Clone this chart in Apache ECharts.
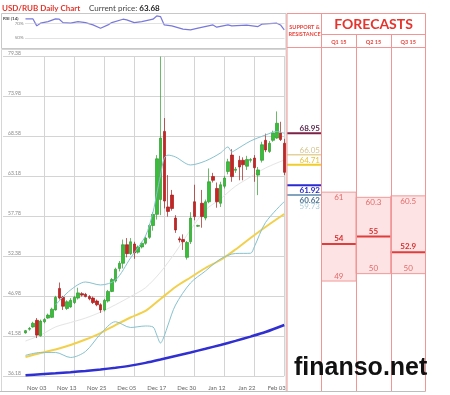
<!DOCTYPE html>
<html><head><meta charset="utf-8">
<script src="https://cdn.jsdelivr.net/npm/echarts@6/dist/echarts.min.js"></script>
<style>html,body{margin:0;padding:0;background:#fff}#c{width:450px;height:395px}</style>
</head><body><div id="c"></div>
<script>
// ---------- DATA ----------
const dates = ['Oct 21','Oct 22','Oct 23','Oct 24','Oct 27','Oct 28','Oct 29','Oct 30','Oct 31',
  'Nov 03','Nov 04','Nov 05','Nov 06','Nov 07','Nov 10','Nov 11','Nov 12','Nov 13','Nov 14','Nov 17',
  'Nov 18','Nov 19','Nov 20','Nov 21','Nov 24','Nov 25','Nov 26','Nov 27','Nov 28','Dec 01','Dec 02',
  'Dec 03','Dec 04','Dec 05','Dec 08','Dec 09','Dec 10','Dec 11','Dec 12','Dec 15','Dec 16','Dec 17',
  'Dec 18','Dec 19','Dec 22','Dec 23','Dec 24','Dec 26','Dec 29','Dec 30','Dec 31','Jan 02','Jan 05',
  'Jan 06','Jan 07','Jan 08','Jan 09','Jan 12','Jan 13','Jan 14','Jan 15','Jan 16','Jan 19','Jan 20',
  'Jan 21','Jan 22','Jan 23','Jan 26','Jan 27','Jan 28','Jan 29','Jan 30','Feb 02','Feb 03','Feb 04','Feb 05'];
const xTickLabels = ['Nov 03','Nov 13','Nov 25','Dec 05','Dec 17','Dec 30','Jan 12','Jan 22','Feb 03'];
const gridDates = ['Nov 05','Nov 17','Nov 27','Dec 09','Dec 19','Jan 02','Jan 14','Jan 26','Feb 05'];
const yTickLabels = ['36.18','41.58','46.98','52.38','57.78','63.18','68.58','73.98','79.38'];

const candleStart = 'Oct 29';
const candleOpen = [42.0,42.5,42.8,43.7,41.6,43.5,44.0,44.1,45.1,48.0,
  46.8,45.3,45.5,46.1,46.7,47.3,47.2,46.9,46.7,46.3,
  45.8,45.1,46.3,47.6,49.0,50.7,51.4,53.9,52.7,54.0,
  52.9,53.6,54.1,54.9,56.5,58.0,60.0,69.2,59.0,60.6,
  57.5,54.7,54.6,52.2,54.3,59.7,56.4,59.5,57.5,59.7,
  63.1,61.5,59.5,61.8,63.8,66.0,63.95,65.3,65.3,64.5,
  65.3,65.6,63.3,65.3,68.0,66.5,68.0,68.3,69.0,67.6];
const candleClose = [42.3,42.6,43.3,41.7,43.6,43.8,44.4,45.2,46.8,46.7,
  45.6,46.2,46.4,46.8,47.4,47.1,46.9,46.6,46.1,45.8,
  45.1,46.4,47.6,49.2,50.6,51.4,53.9,52.7,54.3,52.8,
  53.6,54.1,54.8,56.5,58.0,65.5,68.3,59.8,58.4,58.8,
  55.9,54.55,54.3,54.2,57.5,57.7,56.5,57.7,59.7,62.4,
  62.6,59.7,62.0,62.9,65.1,63.1,64.1,64.4,64.7,65.4,
  65.4,64.3,64.0,67.4,66.7,67.6,69.0,70.3,68.1,63.68];
const candleLow = [41.9,42.3,42.7,41.3,41.5,43.3,43.9,44.0,45.0,46.5,
  45.1,45.1,45.4,45.9,46.5,46.9,46.8,46.4,45.9,45.6,
  44.7,44.9,46.1,47.5,48.8,50.3,50.7,52.2,52.5,52.0,
  52.7,53.4,53.9,54.7,55.8,57.3,57.9,58.8,57.7,58.5,
  55.5,54.2,53.2,51.9,54.0,57.2,56.3,56.2,57.2,59.5,
  62.3,58.9,59.0,61.5,63.4,62.4,63.6,62.6,62.6,64.0,
  65.0,62.4,60.6,65.0,66.4,66.3,67.8,68.2,67.9,63.3];
const candleHigh = [42.4,42.8,43.5,44.0,43.8,44.0,44.6,45.4,47.0,48.8,
  47.0,46.4,46.7,47.0,48.1,47.5,47.4,47.1,46.9,46.5,
  46.0,46.6,47.8,49.4,50.8,51.7,54.6,54.8,54.8,54.3,
  53.8,54.3,55.0,56.7,58.3,66.0,79.3,71.0,63.3,61.3,
  57.9,55.0,55.3,54.4,58.3,62.0,56.6,61.3,60.0,64.2,
  63.6,62.3,62.4,63.2,65.5,66.8,64.4,65.9,65.7,65.9,
  65.6,66.0,64.4,67.8,68.9,67.9,69.3,71.9,70.5,68.2];

const maDates = ['Oct 29','Nov 04','Nov 10','Nov 14','Nov 20','Nov 26','Dec 02','Dec 08','Dec 12',
  'Dec 18','Dec 24','Dec 31','Jan 07','Jan 13','Jan 19','Jan 23','Jan 29','Feb 05'];
const smaYellow = [38.75,39.29,39.76,40.37,41.11,41.98,43.06,44.08,44.96,46.58,48.2,49.48,50.76,51.84,53.26,54.81,56.3,58.05];
const smaBlue = [36.27,36.42,36.55,36.69,36.86,37.06,37.30,37.58,37.95,38.40,38.88,39.36,39.85,40.37,40.92,41.50,42.12,43.07];
const bandMid = [40.9,41.7,42.8,43.4,44.0,44.8,45.8,46.9,48.1,50.2,52.9,55.9,58.6,60.1,61.8,63.05,64.26,65.34];

const lowerDates = ['Oct 29','Nov 04','Nov 10','Nov 14','Nov 20','Nov 26','Dec 02','Dec 08','Dec 12',
  'Dec 16','Dec 17','Dec 18','Dec 19','Dec 22','Dec 24','Dec 31','Jan 07','Jan 13','Jan 19','Jan 23',
  'Jan 26','Jan 29','Feb 05'];
const bandLower = [38.97,39.36,39.36,38.68,39.49,41.85,43.51,42.73,42.93,42.8,41.72,40.63,41.58,43.06,
  45.76,48.74,50.36,51.98,52.72,52.75,53.6,56.9,59.73];

const upperDates = ['Nov 10','Nov 14','Nov 20','Nov 26','Dec 02','Dec 08','Dec 12','Dec 16','Dec 17',
  'Dec 18','Dec 19','Dec 22','Dec 24','Dec 31','Jan 07','Jan 13','Jan 15','Jan 16','Jan 19','Jan 23',
  'Jan 29','Feb 03','Feb 05'];
const bandUpper = [45.77,47.79,48.87,48.47,49.14,52.11,55.08,58.3,60.8,63.3,65.6,66.0,65.75,64.67,65.21,
  66.29,67.1,66.42,66.69,67.9,68.71,69.19,68.95];

const rsiDates = ['Oct 29','Oct 31','Nov 03','Nov 04','Nov 06','Nov 10','Nov 11','Nov 12','Nov 14','Nov 18',
  'Nov 20','Nov 24','Nov 26','Nov 28','Dec 01','Dec 04','Dec 05','Dec 09','Dec 11','Dec 16','Dec 17',
  'Dec 18','Dec 19','Dec 23','Dec 29','Dec 31','Jan 05','Jan 09','Jan 12','Jan 15','Jan 16','Jan 22',
  'Jan 27','Jan 28','Feb 03','Feb 04','Feb 05'];
const rsiValues = [76.2,76.2,66.6,70.3,72.5,76.2,75.8,71.1,70.3,72.5,71.1,67.9,63.4,67.9,71.1,75.8,74.8,
  71.1,72.5,75.8,80.3,79.4,67.9,66.6,62.0,61.0,63.4,67.9,64.8,67.9,66.6,67.5,65.6,68.9,70.3,67.9,61.0];
const rsiLevels = [70, 50];

const supportLevels = [68.95, 66.05, 64.71, 61.92, 60.62, 59.73];
const quarters = ['Q1 15', 'Q2 15', 'Q3 15'];
const forecastHigh = [61, 60.3, 60.5];
const forecastMid = [54, 55, 52.9];
const forecastLow = [49, 50, 50];

// ---------- STYLES / LAYOUT ----------
const FONT = 'Lato, "Open Sans", sans-serif';
const supportStyles = [
  {line:'#7b2346', text:'#5b2a50', width:2,   below:false, bold:true},
  {line:'#e3d29c', text:'#d6c48c', width:1.5, below:false, bold:false},
  {line:'#f1cd2c', text:'#e5c43c', width:2,   below:false, bold:false},
  {line:'#2a2ad2', text:'#2626c8', width:2,   below:true,  bold:true},
  {line:'#5a86a8', text:'#4d7494', width:1.5, below:true,  bold:true},
  {line:'#d8eaee', text:'#a9cdd6', width:0,   below:true,  bold:false}
];
const RED = '#f09696';
const T = {left:287, sr:321.5, right:425.5, top:13.5, mid:34.5, head:47.5, bottom:391.5};

const idx = d => dates.indexOf(d);
const c0 = idx(candleStart);
const candleData = candleOpen.map((o, k) => [c0 + k, o, candleClose[k], candleLow[k], candleHigh[k]]);
const pairs = (ds, vs) => ds.map((d, k) => [idx(d), vs[k]]);
const lastIdx = c0 + candleOpen.length - 1;

function lineSeries(ds, vs, color, width, z) {
  return {type:'line', xAxisIndex:0, yAxisIndex:0, data: pairs(ds, vs), smooth:0.3,
    symbol:'none', showSymbol:false, lineStyle:{color, width}, z, silent:true};
}

const graphics = [];
const tl = (x1,y1,x2,y2,stroke) => graphics.push({type:'line', z:50, silent:true,
  shape:{x1,y1,x2,y2}, style:{stroke: stroke || RED, lineWidth:1}});
// frames
graphics.push({type:'rect', z:1, silent:true, shape:{x:1.5,y:13.5,width:284.5,height:35}, style:{fill:'none', stroke:'#c8c8c8', lineWidth:1}});
graphics.push({type:'rect', z:1, silent:true, shape:{x:1.5,y:49.5,width:284.5,height:342}, style:{fill:'none', stroke:'#d6d6d6', lineWidth:1}});
// table
tl(T.left, T.top, T.right, T.top);
tl(T.sr, T.mid, T.right, T.mid);
tl(T.left, T.head, T.right, T.head);
tl(T.left, T.top, T.left, T.bottom);
tl(T.sr, T.top, T.sr, T.bottom);
for (let k = 1; k < 3; k++) {
  const x = Math.round(T.sr + k * (T.right - T.sr) / 3) + 0.5;
  tl(x, T.mid, x, T.bottom);
}
tl(T.right, T.top, T.right, T.bottom);
tl(0, T.bottom, T.right, T.bottom, '#bdbdbd');
// texts
graphics.push({type:'text', z:60, style:{text:'USD/RUB Daily Chart', x:2, y:8, verticalAlign:'middle', font:'bold 8px ' + FONT, fill:'#e5352b'}});
graphics.push({type:'text', z:60, style:{text:'Current price: {b|' + candleClose[candleClose.length-1].toFixed(2) + '}', x:89, y:8, verticalAlign:'middle',
  font:'8px ' + FONT, fill:'#444', rich:{b:{font:'bold 8px ' + FONT, fill:'#222'}}}});
graphics.push({type:'text', z:60, style:{text:'RSI (14)', x:3, y:19, verticalAlign:'middle', font:'bold 4.5px ' + FONT, fill:'#444'}});
graphics.push({type:'text', z:60, style:{text:'SUPPORT &', x:304.5, y:27.5, align:'center', verticalAlign:'middle', font:'bold 5.5px ' + FONT, fill:'#e8453c'}});
graphics.push({type:'text', z:60, style:{text:'RESISTANCE', x:304.5, y:34.5, align:'center', verticalAlign:'middle', font:'bold 5.5px ' + FONT, fill:'#e8453c'}});
graphics.push({type:'text', z:60, style:{text:'FORECASTS', x:373.5, y:24.5, align:'center', verticalAlign:'middle', font:'bold 14px ' + FONT, fill:'#e6332c'}});
graphics.push({type:'text', z:60, style:{text:'finanso.net', x:294, y:368, verticalAlign:'middle', font:'bold 25px "Liberation Sans", Arial, sans-serif', fill:'#111'}});

const chart = echarts.init(document.getElementById('c'));
chart.setOption({
  animation:false,
  backgroundColor:'#fff',
  textStyle:{fontFamily:FONT},
  grid:[
    {left:3, top:56, width:281.25, height:320},
    {left:3, top:14, width:281.25, height:34},
    {left:287, top:56, width:34.5, height:320},
    {left:321.5, top:56, width:104, height:320}
  ],
  xAxis:[
    {gridIndex:0, type:'category', data:dates, boundaryGap:false,
      axisLine:{show:false}, axisTick:{show:false},
      axisLabel:{interval:(i, v) => xTickLabels.includes(v), fontSize:6, color:'#666', margin:9, fontFamily:FONT},
      splitLine:{show:true, interval:(i, v) => gridDates.includes(v), lineStyle:{color:'#d4d4d4', width:1}}},
    {gridIndex:1, type:'category', data:dates, boundaryGap:false, show:false},
    {gridIndex:2, type:'value', min:0, max:1, show:false},
    {gridIndex:3, type:'category', data:quarters, position:'top', boundaryGap:true,
      axisLine:{show:false}, axisTick:{show:false}, splitLine:{show:false},
      axisLabel:{fontSize:5.5, color:'#e8453c', fontWeight:'bold', margin:11, fontFamily:FONT}}
  ],
  yAxis:[
    {gridIndex:0, type:'value', min:36.18, max:79.38, show:false},
    {gridIndex:0, type:'value', position:'left', min:0, max:8, interval:1, axisLine:{show:false}, axisTick:{show:false},
      axisLabel:{inside:true, formatter:v => yTickLabels[Math.round(v)], fontSize:5, color:'#888', margin:5, verticalAlign:'bottom', fontFamily:FONT},
      splitLine:{show:true, lineStyle:{color:'#d4d4d4', width:1}}},
    {gridIndex:1, type:'value', min:36, max:83, show:false},
    {gridIndex:2, type:'value', min:36.18, max:79.38, show:false},
    {gridIndex:3, type:'value', min:36.18, max:79.38, show:false}
  ],
  series:[
    lineSeries(maDates, bandMid, '#e4e4e4', 1, 2),
    {type:'candlestick', xAxisIndex:0, yAxisIndex:0, data:candleData, encode:{x:0, y:[1,2,3,4]},
      barWidth:3, clip:false, z:3,
      itemStyle:{color:'#37bf37', color0:'#cc2222', borderColor:'#2f9a2f', borderColor0:'#a01c1c', borderWidth:0.7}},
    lineSeries(maDates, smaYellow, '#f2d04c', 2, 4),
    lineSeries(maDates, smaBlue, '#3030d2', 2.5, 4),
    lineSeries(upperDates, bandUpper, '#86c2cf', 1, 4),
    lineSeries(lowerDates, bandLower, '#86c2cf', 1, 4),
    {type:'line', xAxisIndex:1, yAxisIndex:2, data:pairs(rsiDates, rsiValues), symbol:'none', showSymbol:false,
      lineStyle:{color:'#7878dc', width:1.2}, silent:true,
      markLine:{symbol:'none', silent:true, lineStyle:{color:'#c4c4c4', type:'dotted', width:1},
        label:{position:'start', fontSize:4.5, color:'#888', distance:2, fontFamily:FONT},
        data:rsiLevels.map(lv => [{coord:[c0, lv], label:{formatter: lv + '%'}}, {coord:[lastIdx, lv]}])}},
    {type:'custom', xAxisIndex:2, yAxisIndex:3, clip:false, silent:true, z:10,
      data:supportLevels.map(v => [0, v]),
      renderItem:(params, api) => {
        const st = supportStyles[params.dataIndex];
        const v = api.value(1);
        const a = api.coord([0, v]), b = api.coord([1, v]);
        const ch = [];
        if (st.width > 0) ch.push({type:'line', shape:{x1:a[0], y1:a[1], x2:b[0], y2:b[1]}, style:{stroke:st.line, lineWidth:st.width}});
        ch.push({type:'text', style:{text:v.toFixed(2), x:b[0]-1.5, y: st.below ? a[1]+1 : a[1]-0.5,
          align:'right', verticalAlign: st.below ? 'top' : 'bottom', fill:st.text,
          font:(st.bold ? 'bold ' : '') + '8px ' + FONT}});
        return {type:'group', children:ch};
      }},
    {type:'custom', xAxisIndex:3, yAxisIndex:4, clip:false, silent:true, z:10,
      data:quarters.map((q, k) => [k, forecastHigh[k], forecastMid[k], forecastLow[k]]),
      encode:{x:0, y:[1,2,3]},
      renderItem:(params, api) => {
        const k = api.value(0), hi = api.value(1), md = api.value(2), lo = api.value(3);
        const pH = api.coord([k, hi]), pM = api.coord([k, md]), pL = api.coord([k, lo]);
        const w = api.size([1, 0])[0];
        const x0 = pH[0] - w / 2;
        const f = '8px ' + FONT;
        return {type:'group', children:[
          {type:'rect', shape:{x:x0, y:pH[1], width:w, height:pL[1]-pH[1]}, style:{fill:'#fde3e3', stroke:'#f09a9a', lineWidth:1}},
          {type:'line', shape:{x1:x0, y1:pM[1], x2:x0+w, y2:pM[1]}, style:{stroke:'#e03c3c', lineWidth:2}},
          {type:'text', style:{text:String(hi), x:pH[0], y:pH[1]+1.5, align:'center', verticalAlign:'top', fill:'#e36a6a', font:f}},
          {type:'text', style:{text:String(md), x:pM[0], y:pM[1]-1.5, align:'center', verticalAlign:'bottom', fill:'#d82e2e', font:'bold ' + f}},
          {type:'text', style:{text:String(lo), x:pL[0], y:pL[1]-1, align:'center', verticalAlign:'bottom', fill:'#e36a6a', font:f}}
        ]};
      }}
  ],
  graphic:graphics
});
</script></body></html>
